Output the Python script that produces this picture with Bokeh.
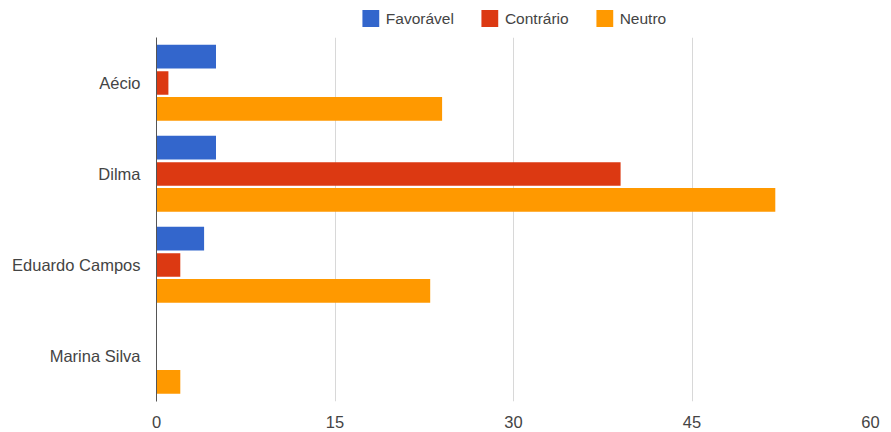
from bokeh.plotting import figure
from bokeh.models import ColumnDataSource, FactorRange, Range1d, FixedTicker, Legend, LegendItem
from bokeh.layouts import column
from bokeh.transform import dodge
from bokeh.embed import file_html
from bokeh.resources import INLINE

candidates = ["Aécio", "Dilma", "Eduardo Campos", "Marina Silva"]
favoravel = [5, 5, 4, 0]
contrario = [1, 39, 2, 0]
neutro = [24, 52, 23, 2]
series_names = ["Favorável", "Contrário", "Neutro"]
colors = ["#3366cc", "#dc3912", "#ff9900"]
x_ticks = [0, 15, 30, 45, 60]

FONT = "Liberation Sans"
TXT = "#444444"
W = 883
LB, RB = 156, 9

src = ColumnDataSource(dict(cand=candidates, fav=favoravel, con=contrario, neu=neutro))
fields = ["fav", "con", "neu"]
offsets = [0.29, 0.0, -0.285]

p = figure(width=W, height=395, output_backend="svg", toolbar_location=None,
           y_range=FactorRange(factors=list(reversed(candidates))),
           x_range=Range1d(0, 60),
           min_border_left=LB, min_border_right=RB, min_border_bottom=30, min_border_top=1)

h = 0.26
for f, off, col in zip(fields, offsets, colors):
    p.hbar(y=dodge("cand", off, range=p.y_range), right=f, left=0, height=h, source=src,
           fill_color=col, line_color=None)

p.outline_line_color = None
p.ygrid.grid_line_color = None
p.xgrid.grid_line_color = "#d8d8d8"
p.xaxis.ticker = FixedTicker(ticks=x_ticks)
p.xaxis.axis_line_color = None
p.xaxis.major_tick_line_color = None
p.xaxis.minor_tick_line_color = None
p.xaxis.major_label_standoff = 8
p.yaxis.axis_line_color = "#555555"
p.yaxis.major_tick_line_color = None
p.yaxis.minor_tick_line_color = None
p.yaxis.major_label_standoff = 10
for ax in (p.xaxis[0], p.yaxis[0]):
    ax.major_label_text_font = FONT
    ax.major_label_text_font_size = "16.5px"
    ax.major_label_text_color = TXT

# legend strip above the chart (its zero-height bars lie outside its own x range; only the legend shows)
lg = figure(width=W, height=36, output_backend="svg", toolbar_location=None,
            x_range=Range1d(100, 101), y_range=FactorRange(factors=list(reversed(candidates))),
            x_axis_type=None, y_axis_type=None,
            min_border_left=LB - 4, min_border_right=RB + 4, min_border_top=0, min_border_bottom=0)
lg.outline_line_color = None
lg.xgrid.visible = False
lg.ygrid.visible = False
items = []
for name, f, col in zip(series_names, fields, colors):
    r = lg.hbar(y="cand", right=f, left=0, height=0, source=src, fill_color=col, line_color=None)
    items.append(LegendItem(label=name, renderers=[r]))
legend = Legend(items=items, orientation="horizontal", location="center",
                glyph_width=21, glyph_height=21, label_standoff=5, spacing=25,
                padding=0, margin=0, border_line_color=None, background_fill_alpha=0,
                label_text_font=FONT, label_text_font_size="15.5px", label_text_color=TXT)
lg.add_layout(legend, "center")

layout = column(lg, p, spacing=0)
open("out.html", "w").write(file_html(layout, INLINE))
